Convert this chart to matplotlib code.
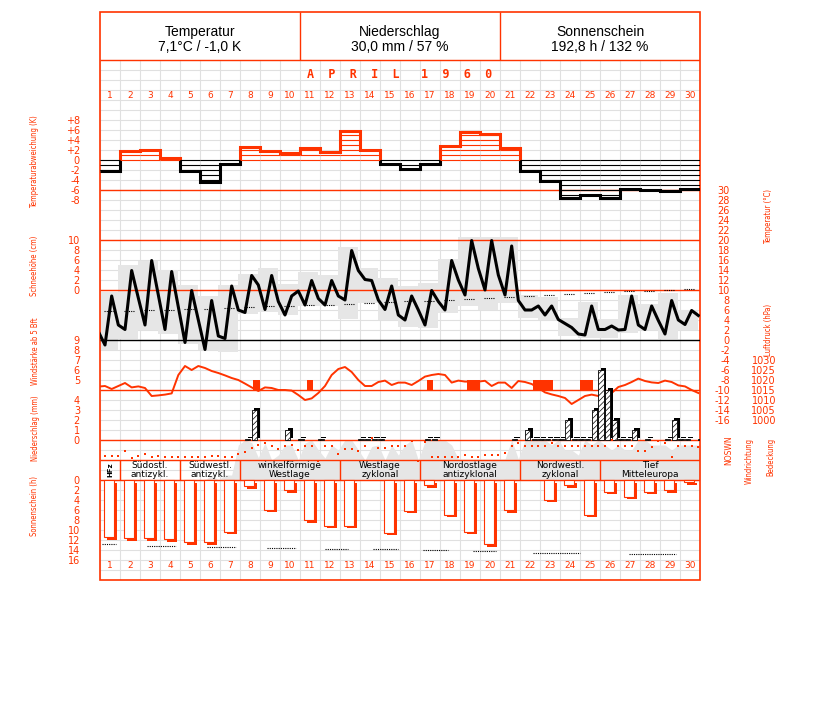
import numpy as np
import matplotlib.pyplot as plt
from matplotlib import font_manager
from matplotlib.patches import Rectangle
from matplotlib.transforms import offset_copy

W, H = 827, 702
X_L, X_R, Y_TOP, Y_BOT = 100, 700, 12, 580
RED = '#ff3300'
GRID = '#e0e0e0'
FILL = '#e6e6e6'

plt.rcParams['font.family'] = ['DejaVu Sans']
plt.rcParams['hatch.linewidth'] = 0.5

# schmale Schrift fuer die Achsentitel, je nachdem was installiert ist
faces = font_manager.fontManager.ttflist
if any(f.name == 'Liberation Sans Narrow' for f in faces):
    LABEL_FONT = dict(family='Liberation Sans Narrow', fontsize=6.5)
elif any(f.name == 'DejaVu Sans' and str(f.stretch) == 'condensed' for f in faces):
    LABEL_FONT = dict(family='DejaVu Sans', fontstretch='condensed', fontsize=5.5)
else:
    LABEL_FONT = dict(family='Liberation Sans', fontsize=5.5)

days = np.arange(1, 31)
obs_pos = np.array([0.25, 7 / 12, 11 / 12])  # 7, 14, 21 Uhr im Tageskaestchen

# Temperaturabweichung (K)
anomaly = [-2.1, 1.8, 2.0, 0.5, -2.1, -4.3, -0.8, 2.7, 1.9, 1.5,
           2.5, 1.6, 5.9, 2.0, -0.7, -1.8, -0.8, 2.9, 5.6, 5.2,
           2.5, -2.2, -4.1, -7.5, -7.0, -7.5, -5.8, -5.9, -6.1, -5.8]

# Temperatur (°C) 7, 14, 21 Uhr
temp_prev = 1.7
t07 = [-1.0, 2.1, 3.0, 2.1, -0.5, -1.9, 0.3, 5.5, 6.1, 5.0,
       7.0, 7.0, 8.0, 12.1, 6.1, 4.0, 3.0, 6.0, 9.0, 10.0,
       9.0, 6.0, 5.0, 3.3, 1.0, 2.1, 2.1, 2.1, 1.2, 3.1]
t14 = [8.8, 13.9, 15.9, 13.7, 9.9, 7.9, 10.8, 12.9, 12.9, 8.8,
       11.9, 11.9, 17.9, 11.9, 10.8, 8.8, 9.9, 15.9, 19.9, 19.9,
       18.8, 6.0, 6.8, 2.5, 6.8, 2.8, 8.8, 6.8, 7.9, 5.9]
t21 = [3.0, 8.4, 9.0, 6.6, 4.0, 0.8, 6.0, 11.0, 7.7, 9.8,
       8.3, 8.8, 13.9, 8.0, 5.0, 6.0, 7.7, 12.0, 14.3, 13.0,
       7.9, 6.8, 4.1, 1.2, 2.1, 2.0, 3.0, 3.9, 4.0, 4.9]
tmax = [9.7, 15.0, 15.9, 14.0, 11.0, 8.8, 11.0, 13.3, 14.5, 11.2,
        13.7, 13.0, 18.7, 14.5, 12.5, 10.8, 11.5, 16.3, 20.7, 20.7,
        20.7, 9.0, 8.7, 4.5, 7.7, 4.3, 9.0, 7.3, 9.5, 6.0]
tmin = [-2.0, 0.3, 2.0, 1.3, -0.7, -2.0, -2.3, 5.3, 5.7, 5.0,
        6.8, 6.8, 4.3, 7.5, 4.0, 2.7, 2.5, 5.5, 6.8, 6.0,
        7.5, 4.5, 4.0, 0.8, 0.5, 0.5, 1.5, 2.0, 0.3, 2.0]
t_norm = [5.8, 5.9, 6.0, 6.1, 6.2, 6.3, 6.5, 6.7, 6.8, 6.9,
          7.0, 7.1, 7.3, 7.5, 7.6, 7.8, 7.9, 8.1, 8.3, 8.5,
          8.7, 8.9, 9.0, 9.2, 9.4, 9.6, 9.8, 9.9, 10.1, 10.3]

# Luftdruck (hPa) 7, 14, 21 Uhr
pres_prev = 1016.7
p07 = [1017, 1018.5, 1016, 1012.7, 1027, 1026, 1022.3, 1018.2, 1016.3, 1015,
       1010, 1017, 1026.5, 1017, 1019.7, 1018.7, 1021.7, 1022.5, 1019.2, 1019.6,
       1018.7, 1019, 1013.8, 1011, 1012, 1011.3, 1017.5, 1019.5, 1019.7, 1016.8]
p14 = [1015.5, 1016.3, 1012, 1013.3, 1025, 1024.5, 1021, 1016.3, 1016, 1014.7,
       1010.8, 1022.5, 1024, 1017, 1017.5, 1017.5, 1022.5, 1018.7, 1019.2, 1017,
       1016, 1018, 1012.8, 1008, 1012.7, 1013.5, 1019, 1018.8, 1019, 1015]
p21 = [1017, 1016.8, 1012.3, 1022.5, 1027, 1023.5, 1020, 1014.5, 1015, 1012.5,
       1013.5, 1025.5, 1020, 1019, 1018.7, 1019.5, 1023, 1019.7, 1019.2, 1018.7,
       1019.5, 1016, 1012, 1010, 1012, 1016.5, 1020.7, 1018.5, 1017.3, 1013.5]

# Windstaerke ab 5 Bft (Tag, Termin 1-3)
wind5_day = [8, 11, 17, 19, 19, 22, 23, 23, 25, 25]
wind5_obs = [3, 2, 2, 2, 3, 3, 1, 2, 1, 2]
wind5_bft = [5, 5, 5, 5, 5, 5, 5, 5, 5, 5]

# Niederschlag (mm) je Terminintervall
prec_day = [8, 8, 10, 10, 11, 13, 14, 14, 14, 17, 17, 21, 22, 22, 22, 23, 23, 23,
            24, 24, 24, 25, 25, 25, 26, 26, 26, 27, 27, 28, 29, 29, 29, 30, 30]
prec_obs = [1, 2, 1, 3, 3, 3, 1, 2, 3, 1, 2, 2, 1, 2, 3, 1, 2, 3,
            1, 2, 3, 1, 2, 3, 1, 2, 3, 1, 2, 1, 1, 2, 3, 1, 3]
prec_mm = [0.1, 3.0, 1.0, 0.1, 0.1, 0.1, 0.1, 0.1, 0.1, 0.1, 0.1, 0.1, 1.0, 0.1, 0.1, 0.1, 0.1, 0.1,
           2.0, 0.1, 0.1, 0.1, 3.0, 7.0, 5.0, 2.0, 0.1, 0.1, 1.0, 0.1, 0.1, 2.0, 0.1, 0.1, 0.1]

# Windrichtung (Grad) 7, 14, 21 Uhr
d07 = [90, 170, 120, 75, 75, 75, 75, 155, 290, 240, 240, 240, 190, 240, 205,
       240, 305, 70, 105, 105, 140, 240, 240, 240, 240, 240, 240, 170, 290, 240]
d14 = [90, 60, 75, 75, 75, 90, 75, 210, 240, 255, 240, 240, 190, 355, 240,
       320, 70, 70, 70, 105, 240, 240, 290, 240, 240, 330, 240, 220, 70, 240]
d21 = [90, 90, 90, 75, 75, 90, 120, 255, 190, 180, 10, 120, 170, 205, 240,
       10, 70, 70, 70, 105, 290, 240, 240, 240, 240, 240, 170, 320, 240, 220]

# Bedeckung (Achtel) 7, 14, 21 Uhr
c07 = [0, 0, 0, 0, 0, 0, 1, 8, 7.4, 7, 7.4, 4.4, 8, 4, 4,
       7, 7.7, 8, 4.2, 4.2, 4.2, 8, 8, 6, 8, 7, 6, 8, 7, 7]
c14 = [0, 0, 0, 0, 0, 1, 1, 7.5, 4, 7, 8, 7, 8, 6.7, 7,
       8, 8, 7, 4.2, 4.2, 8, 8, 7, 6, 7, 6, 6, 7, 6, 7]
c21 = [0, 0, 0, 0, 0, 0, 7, 4.5, 5, 4, 6, 6, 6, 7, 5,
       4, 8, 4.2, 4.2, 4.2, 4.2, 8, 8, 5, 8, 7, 8, 7, 7, 7]

# Sonnenschein (h)
sun = [11.4, 11.6, 11.6, 11.8, 12.4, 12.4, 10.3, 1.2, 5.9, 2.0,
       8.0, 9.1, 9.1, 0.0, 10.5, 6.1, 1.0, 6.9, 10.3, 12.8,
       6.0, 0.0, 3.9, 1.0, 6.9, 2.3, 3.3, 2.3, 2.0, 0.4]
sun_norm_start = [0.1, 2.33, 5.33, 8.33, 11.25, 13.63, 16.13, 18.63, 21.65, 26.45]
sun_norm_end = [0.8, 3.8, 6.8, 9.8, 12.4, 14.9, 17.4, 19.8, 24.0, 28.8]
sun_norm_val = [12.8, 13.1, 13.3, 13.5, 13.7, 13.8, 14.0, 14.2, 14.5, 14.7]

# Grosswetterlagen
wt_start = [0, 1, 4, 7, 12, 16, 21, 25]
wt_end = [1, 4, 7, 12, 16, 21, 25, 30]
wt_label = ['HFz', 'Südostl.\nantizykl.', 'Südwestl.\nantizykl.', 'winkelförmige\nWestlage',
            'Westlage\nzyklonal', 'Nordostlage\nantizyklonal', 'Nordwestl.\nzyklonal',
            'Tief\nMitteleuropa']

header_title = ['Temperatur', 'Niederschlag', 'Sonnenschein']
header_value = ['7,1°C / -1,0 K', '30,0 mm / 57 %', '192,8 h / 132 %']

fig = plt.figure(figsize=(W / 100, H / 100), dpi=100)
frame = [X_L / W, 1 - Y_BOT / H, (X_R - X_L) / W, (Y_BOT - Y_TOP) / H]


def layer(value, px, k, z):
    # overlay axes: "value" sits at pixel row px, k pixels per unit
    a = fig.add_axes(frame)
    a.set_xlim(0, 30)
    a.set_ylim(value - (Y_BOT - px) / k, value + (px - Y_TOP) / k)
    a.set_zorder(z)
    a.patch.set_visible(False)
    a.set_xticks([])
    a.set_yticks([])
    for s in a.spines.values():
        s.set_visible(False)
    a.tick_params(length=0, labelcolor=RED, labelsize=7)
    return a


def scale(a, ticks, labels, side='left', pad=14.4):
    a.set_yticks(ticks, labels=labels)
    if side == 'right':
        a.tick_params(axis='y', left=False, right=True, labelleft=False, labelright=True, pad=pad)
        plt.setp(a.get_yticklabels(), ha='right')
    else:
        a.tick_params(axis='y', pad=pad)


def fig_text(px, py, s, **kw):
    fig.text(px / W, 1 - py / H, s, **kw)


obs_t = (days[:, None] - 1 + obs_pos).ravel()

# grid
base = layer(0, 0, -1, 0)
base.vlines(np.arange(31), 60, Y_BOT, color=GRID, lw=0.8)
base.hlines(np.arange(60, Y_BOT, 10), 0, 30, color=GRID, lw=0.8)

# grey areas
t_fill = layer(0, 340, 5, 1)
t_fill.bar(days - 1 - 1 / 12, np.subtract(tmax, tmin), bottom=tmin, width=1,
           align='edge', color=FILL, lw=0)
c_fill = layer(0, 480, 5, 1)
cloud = np.column_stack([c07, c14, c21]).ravel()
c_fill.fill_between(np.r_[0, obs_t, 30], 0, np.r_[cloud[0], cloud, cloud[-1]],
                    color=FILL, lw=0)

# frame, separators, texts
frn = layer(0, 0, -1, 2)
frn.hlines([60, 190, 240, 290, 390, 440, 460, 480], 0, 30, color=RED, lw=1)
frn.hlines(340, 0, 30, color='black', lw=1)
frn.vlines([10, 20], Y_TOP, 60, color=RED, lw=1)
frn.vlines(wt_start[1:], 460, 480, color=RED, lw=1)
frn.add_patch(Rectangle((0, Y_TOP), 30, Y_BOT - Y_TOP, fill=False, ec=RED, lw=1.2, clip_on=False))
for i, (t, v) in enumerate(zip(header_title, header_value)):
    frn.text(5 + 10 * i, 32, t, ha='center', va='center', fontsize=10, family='Liberation Sans')
    frn.text(5 + 10 * i, 47, v, ha='center', va='center', fontsize=10, family='Liberation Sans')
frn.text(15, 75, 'A  P  R  I  L   1  9  6  0', ha='center', va='center', color=RED,
         fontsize=8.5, family='DejaVu Sans Mono', fontweight='bold')
for d in days:
    for row in (96, 565):
        frn.text(d - 0.5, row, str(d), ha='center', va='center', color=RED, fontsize=6.5)
for s, e, lab in zip(wt_start, wt_end, wt_label):
    rot = 90 if e - s == 1 else 0
    frn.text((s + e) / 2, 470, lab, ha='center', va='center', fontsize=5 if rot else 6.5,
             rotation=rot, linespacing=1.0, fontweight='bold' if rot else 'normal')

# Temperaturabweichung
an = layer(0, 160, 5, 3)
for d, a in zip(days, anomaly):
    col = RED if a > 0 else 'black'
    an.hlines(np.sign(a) * np.arange(0, abs(a), 1.0), d - 1, d, color=col, lw=0.8)
for col, y0 in [(RED, 0), ('black', -50)]:
    st = an.stairs(anomaly, np.arange(31), baseline=None, color=col, lw=2.2)
    st.set_clip_path(Rectangle((0, y0), 30, 50, transform=an.transData))
scale(an, range(-8, 9, 2), ['+%d' % v if v > 0 else str(v) for v in range(-8, 9, 2)])

# Temperatur
tl = layer(0, 340, 5, 3)
temp = np.column_stack([t07, t14, t21]).ravel()
tl.plot(np.r_[-1 / 12, obs_t], np.r_[temp_prev, temp], color='black', lw=2.2)
tl.hlines(t_norm, days - 0.8, days - 0.3, color='black', lw=0.8, linestyles=(0, (1, 1)))
scale(tl, range(-16, 31, 2), [str(v) for v in range(-16, 31, 2)], side='right', pad=21.6)

# Schneehoehe (keine)
sn = layer(0, 290, 5, 3)
scale(sn, range(0, 11, 2), [str(v) for v in range(0, 11, 2)])

# Luftdruck
pr = layer(1015, 390, 2, 3)
pres = np.column_stack([p07, p14, p21]).ravel()
pr.plot(np.r_[-1 / 12, obs_t], np.r_[pres_prev, pres], color=RED, lw=1.4)
scale(pr, range(1000, 1031, 5), [str(v) for v in range(1000, 1031, 5)], side='right', pad=54.7)

# Windstaerke
wd = layer(5, 380, 10, 3)
wd.bar(np.array(wind5_day) - 1 + (np.array(wind5_obs) - 1) / 3, np.array(wind5_bft) - 4,
       bottom=4, width=1 / 3, align='edge', color=RED, lw=0)
scale(wd, range(5, 10), [str(v) for v in range(5, 10)])

# Niederschlag
pc = layer(0, 440, 10, 3)
left = np.array(prec_day) - 1 + obs_pos[np.array(prec_obs) - 1]
shadow = pc.bar(left, prec_mm, width=0.27, align='edge', color='black', lw=0)
off = offset_copy(pc.transData, fig=fig, x=2.5, y=2, units='dots')
for p in shadow:
    p.set_transform(off)
pc.bar(left, prec_mm, width=0.27, align='edge', color='white', edgecolor='black',
       hatch='//////', lw=0.6)
scale(pc, range(0, 5), [str(v) for v in range(0, 5)])

# Windrichtung
wr = layer(0, 462, 1 / 15, 3)
wdir = np.column_stack([d07, d14, d21]).ravel()
wr.plot(obs_t, wdir, 's', color=RED, ms=2, mew=0)

# Sonnenschein
ss = layer(0, 480, -5, 3)
sun = np.array(sun)
has_sun = sun > 0
shadow = ss.bar(days[has_sun] - 0.8, sun[has_sun], width=0.5, align='edge', color=RED, lw=0)
off = offset_copy(ss.transData, fig=fig, x=2.7, y=-2.7, units='dots')
for p in shadow:
    p.set_transform(off)
ss.bar(days[has_sun] - 0.8, sun[has_sun], width=0.5, align='edge', color='white',
       edgecolor=RED, lw=0.8)
ss.hlines(sun_norm_val, sun_norm_start, sun_norm_end, color='black', lw=0.8,
          linestyles=(0, (1, 1)))
scale(ss, range(0, 17, 2), [str(v) for v in range(0, 17, 2)])

# side labels
lab_kw = dict(rotation=90, ha='center', va='center', color=RED, **LABEL_FONT)
fig_text(35, 162, 'Temperaturabweichung (K)', **lab_kw)
fig_text(35, 266, 'Schneehöhe (cm)', **lab_kw)
fig_text(35, 351, 'Windstärke ab 5 Bft', **lab_kw)
fig_text(35, 428, 'Niederschlag (mm)', **lab_kw)
fig_text(35, 506, 'Sonnenschein (h)', **lab_kw)
fig_text(769, 216, 'Temperatur (°C)', **lab_kw)
fig_text(769, 330, 'Luftdruck (hPa)', **lab_kw)
lab_kw['va'] = 'top'
fig_text(749, 438, 'Windrichtung', **lab_kw)
fig_text(771, 438, 'Bedeckung', **lab_kw)
fig_text(729, 450, 'NOSWN', rotation=90, ha='center', va='center', color=RED, fontsize=5.5)

fig.savefig('out.png', dpi=100)
